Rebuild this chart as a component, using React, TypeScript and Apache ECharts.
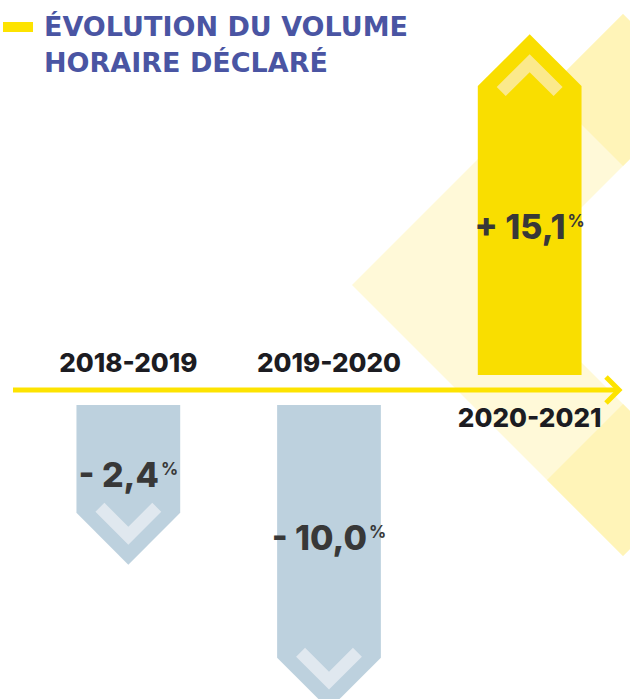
import React, { useEffect, useRef } from 'react';
import * as echarts from 'echarts';

// ---------- data ----------
const categories = ['2018-2019', '2019-2020', '2020-2021'];
const values = [-2.4, -10.0, 15.1];
const titleLines = ['ÉVOLUTION DU VOLUME', 'HORAIRE DÉCLARÉ'];

// ---------- styles ----------
const YELLOW = '#F9DE00';
const YELLOW_LIGHT = '#FBE98C';
const BLUE = '#BDD1DE';
const BLUE_LIGHT = '#E0E8EF';
const AXIS = '#FDE300';
const PALE = '#FFF9D8';
const PALE_DARK = '#FFF4B8';
const TITLE = '#4A55A3';
const GAP = 15;
const BAR_RATIO = 0.517;
const EXTRA_UP = 1;
const EXTRA_DOWN = 62;

function fmt(v: number) {
  return (v < 0 ? '- ' : '+ ') + Math.abs(v).toFixed(1).replace('.', ',');
}

export default function App() {
  const ref = useRef<HTMLDivElement>(null);
  useEffect(() => {
    const chart = echarts.init(ref.current!, undefined, { renderer: 'svg' });
    const data = categories.map((c, i) => [i, values[i]]);
    const option: any = {
      animation: false,
      title: {
        text: titleLines.join('\n'),
        left: 44,
        top: 8,
        padding: 0,
        textStyle: {
          fontFamily: 'DejaVu Sans',
          fontWeight: 'bold',
          fontSize: 27,
          lineHeight: 36,
          color: TITLE,
        },
      },
      grid: { left: 28, width: 609, top: 104, height: 572 },
      xAxis: { type: 'category', data: categories, show: false },
      yAxis: { type: 'value', min: -15, max: 15, show: false },
      graphic: [
        {
          type: 'polygon',
          z: 0,
          shape: { points: [[352, 285], [623, 14], [699, 90], [504, 285], [699, 480], [623, 556]] },
          style: { fill: PALE },
        },
        {
          type: 'polygon',
          z: 1,
          shape: { points: [[623, 14], [699, 90], [623, 166], [547, 90]] },
          style: { fill: PALE_DARK },
        },
        {
          type: 'polygon',
          z: 1,
          shape: { points: [[547, 480], [623, 404], [699, 480], [623, 556]] },
          style: { fill: PALE_DARK },
        },
        {
          type: 'rect',
          z: 3,
          shape: { x: 3, y: 22, width: 30, height: 10 },
          style: { fill: AXIS },
        },
        {
          type: 'line',
          z: 3,
          shape: { x1: 13, y1: 390, x2: 618, y2: 390 },
          style: { stroke: AXIS, lineWidth: 5 },
        },
        {
          type: 'polyline',
          z: 3,
          shape: { points: [[606, 377], [619, 390], [606, 403]] },
          style: { stroke: AXIS, lineWidth: 5, fill: null, lineJoin: 'miter' },
        },
      ],
      series: [
        {
          type: 'custom',
          z: 5,
          encode: { x: 0, y: 1 },
          data,
          renderItem: (params: any, api: any) => {
            const i = api.value(0) as number;
            const v = api.value(1) as number;
            const p0 = api.coord([i, 0]);
            const pv = api.coord([i, v]);
            const cx = p0[0];
            const y0 = p0[1];
            const bandW = api.size([1, 0])[0];
            const half = (bandW * BAR_RATIO) / 2;
            const up = v >= 0;
            const dir = up ? -1 : 1;
            const start = y0 + dir * GAP;
            const body = Math.abs(pv[1] - y0) + (up ? EXTRA_UP : EXTRA_DOWN);
            const shoulder = start + dir * body;
            const tip = shoulder + dir * half;
            const x0 = cx - half;
            const x1 = cx + half;
            const s = half / 52;
            const c = (dx: number, dy: number) => [cx + dx * s, tip - dir * dy * s];
            const labelY = start + dir * 0.435 * Math.abs(tip - start);
            return {
              type: 'group',
              children: [
                {
                  type: 'polygon',
                  shape: { points: [[x0, start], [x0, shoulder], [cx, tip], [x1, shoulder], [x1, start]] },
                  style: { fill: up ? YELLOW : BLUE },
                },
                {
                  type: 'polygon',
                  shape: { points: [c(0, 20), c(-33, 53), c(-24, 62), c(0, 38), c(24, 62), c(33, 53)] },
                  style: { fill: up ? YELLOW_LIGHT : BLUE_LIGHT },
                },
                {
                  type: 'text',
                  x: cx,
                  y: labelY,
                  style: {
                    text: '{v|' + fmt(v) + '}{p|%}',
                    align: 'center',
                    verticalAlign: 'middle',
                    rich: {
                      v: {
                        fontFamily: 'Inter',
                        fontWeight: 800,
                        fontSize: 34,
                        lineHeight: 28,
                        fill: '#383838',
                      },
                      p: {
                        fontFamily: 'Inter',
                        fontWeight: 700,
                        fontSize: 17,
                        lineHeight: 17,
                        verticalAlign: 'top',
                        fill: '#383838',
                        padding: [0, 0, 0, 2],
                      },
                    },
                  },
                },
                {
                  type: 'text',
                  x: cx,
                  y: y0 - dir * 27.5,
                  style: {
                    text: categories[i],
                    align: 'center',
                    verticalAlign: 'middle',
                    fontFamily: 'Inter',
                    fontWeight: 800,
                    fontSize: 26,
                    fill: '#1C1C22',
                  },
                },
              ],
            };
          },
        },
      ],
    };
    chart.setOption(option);
    return () => chart.dispose();
  }, []);
  return (
    <div
      ref={ref}
      style={{ position: 'absolute', left: 0, top: 0, width: 630, height: 699, background: '#fff' }}
    />
  );
}
